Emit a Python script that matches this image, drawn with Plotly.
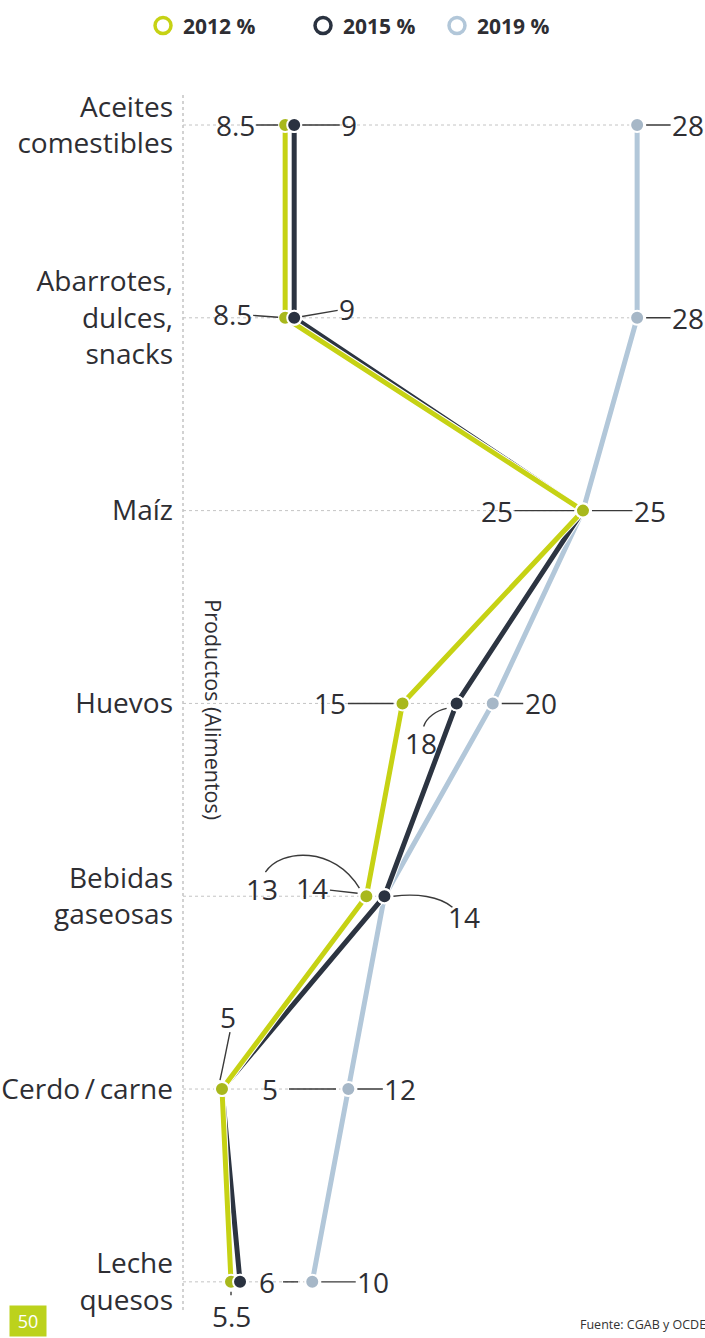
import numpy as np
import plotly.graph_objects as go

# ---- data ---------------------------------------------------------------
categories = [
    "Aceites<br>comestibles",
    "Abarrotes,<br>dulces,<br>snacks",
    "Maíz",
    "Huevos",
    "Bebidas<br>gaseosas",
    "Cerdo\u2009/\u2009carne",
    "Leche<br>quesos",
]
v2012 = [8.5, 8.5, 25, 15, 13, 5, 5.5]
v2015 = [9, 9, 25, 18, 14, 5, 6]
v2019 = [28, 28, 25, 20, 14, 12, 10]
series_names = ["2012 %", "2015 %", "2019 %"]

# ---- styling ------------------------------------------------------------
LINE_C = {"2012 %": "#c6d214", "2015 %": "#2c3441", "2019 %": "#b2c7d9"}
MARK_C = {"2012 %": "#a8b81c", "2015 %": "#2a3240", "2019 %": "#a6b7c7"}
RING_C = {"2012 %": "#c6d214", "2015 %": "#2a3240", "2019 %": "#b2c7d9"}
TEXT_C = "#2e2e33"
FONT = "Open Sans"
NUM_SIZE = 28

W, H = 705, 1338
ML, MR, MT, MB = 183, 0, 80, 28
XRANGE = [2.84, 31.76]
YRANGE = [6.146, -0.2334]

ypos = list(range(len(categories)))
values = {"2012 %": v2012, "2015 %": v2015, "2019 %": v2019}

fig = go.Figure()

# lines with a thin white halo, 2019 at the back
for name in ["2019 %", "2015 %", "2012 %"]:
    fig.add_trace(go.Scatter(x=values[name], y=ypos, mode="lines",
                             line=dict(color="white", width=7),
                             showlegend=False, hoverinfo="skip"))
    fig.add_trace(go.Scatter(x=values[name], y=ypos, mode="lines",
                             line=dict(color=LINE_C[name], width=5),
                             showlegend=False, hoverinfo="skip"))


def marker_trace(name, xs):
    return go.Scatter(x=xs, y=ypos, mode="markers",
                      marker=dict(size=14, color=MARK_C[name],
                                  line=dict(color="white", width=2)),
                      showlegend=False, hoverinfo="skip")


# markers: 2015 under 2012 where they coincide, over it where they differ
fig.add_trace(marker_trace("2019 %", v2019))
fig.add_trace(marker_trace("2015 %", v2015))
fig.add_trace(marker_trace("2012 %", v2012))
v2015_apart = [b if b != a else None for a, b in zip(v2012, v2015)]
fig.add_trace(marker_trace("2015 %", v2015_apart))

# legend entries (open rings), one small legend per year
legend_ids = ["legend", "legend2", "legend3"]
legend_x = [-0.0766, 0.2299, 0.4866]
for name, lid in zip(series_names, legend_ids):
    fig.add_trace(go.Scatter(x=[None], y=[None], mode="markers", name=name,
                             legend=lid,
                             marker=dict(symbol="circle-open", size=16,
                                         color=RING_C[name],
                                         line=dict(width=3.5))))

# ---- labels -------------------------------------------------------------
annotations = []
shapes = []
num_font = dict(family=FONT, size=NUM_SIZE, color=TEXT_C)


def arrow_label(x, yi, text, ax, ay=0, standoff=7):
    annotations.append(dict(x=x, y=yi, xref="x", yref="y", text=text,
                            showarrow=True, arrowhead=0, arrowwidth=1.4,
                            arrowcolor="#3a3a3a", ax=ax, ay=ay,
                            standoff=standoff, font=num_font))


def free_label(x, yi, text, dx, dy):
    annotations.append(dict(x=x, y=yi, xref="x", yref="y", text=text,
                            showarrow=False, xshift=dx, yshift=-dy,
                            font=num_font))


def leader(x, yi, pts, curve=None):
    # pts given in screen pixels relative to the data point (y down)
    def p(q):
        return f"{q[0]},{-q[1]}"
    if curve is None:
        path = f"M {p(pts[0])} L {p(pts[1])}"
    else:
        path = f"M {p(pts[0])} C {p(curve[0])} {p(curve[1])} {p(pts[1])}"
    shapes.append(dict(type="path", path=path, xref="x", yref="y",
                       xsizemode="pixel", ysizemode="pixel",
                       xanchor=x, yanchor=yi,
                       line=dict(color="#3a3a3a", width=1.4)))


# Aceites comestibles
arrow_label(v2012[0], 0, "8.5", -50)
arrow_label(v2015[0], 0, "9", 55, standoff=8)
arrow_label(v2019[0], 0, "28", 51, standoff=9)
# Abarrotes
arrow_label(v2012[1], 1, "8.5", -53, -4)
arrow_label(v2015[1], 1, "9", 53, -9, standoff=8)
arrow_label(v2019[1], 1, "28", 51, standoff=9)
# Maíz
arrow_label(v2012[2], 2, "25", -86, standoff=9)
arrow_label(v2019[2], 2, "25", 67, standoff=9)
# Huevos
arrow_label(v2012[3], 3, "15", -72, standoff=9)
free_label(v2015[3], 3, "18", -36, 40)
leader(v2015[3], 3, [(-33, 23), (-10, 5)], curve=[(-30, 14), (-20, 7)])
arrow_label(v2019[3], 3, "20", 48, standoff=9)
# Bebidas gaseosas
free_label(v2012[4], 4, "13", -104, -7)
leader(v2012[4], 4, [(-101, -24), (-7, -8)], curve=[(-85, -48), (-32, -50)])
arrow_label(v2019[4], 4, "14", -72, -8, standoff=27)
free_label(v2015[4], 4, "14", 80, 21)
leader(v2015[4], 4, [(9, 0), (68, 11)], curve=[(32, -3), (55, 0)])
# Cerdo/carne
free_label(v2012[5], 5, "5", 6, -72)
leader(v2012[5], 5, [(8, -57), (-2, -9)], curve=[(4, -38), (1, -22)])
free_label(v2015[5], 5, "5", 48, 0)
leader(v2015[5], 5, [(67, 0), (114, 0)])
arrow_label(v2019[5], 5, "12", 52, standoff=9)
# Leche quesos
arrow_label(v2012[6], 6, "5.5", 0, 34, standoff=10)
free_label(v2015[6], 6, "6", 27, 0)
leader(v2015[6], 6, [(43, 0), (58, 0)])
arrow_label(v2019[6], 6, "10", 61, standoff=9)

# dotted guide per category, from the axis to the furthest point
for yi in ypos:
    far = max(v2012[yi], v2015[yi], v2019[yi])
    shapes.append(dict(type="line", xref="x", yref="y", x0=XRANGE[0], x1=far,
                       y0=yi, y1=yi, layer="below",
                       line=dict(color="#c4c4c4", width=1, dash="dot")))

# dotted vertical axis line
shapes.append(dict(type="line", xref="paper", yref="paper", x0=0, x1=0,
                   y0=0, y1=0.99, layer="below",
                   line=dict(color="#c4c4c4", width=1.5, dash="dot")))

# axis title
annotations.append(dict(x=0, y=0.488, xref="paper", yref="paper",
                        text="Productos (Alimentos)", showarrow=False,
                        textangle=90, xshift=14,
                        font=dict(family=FONT, size=21.5, color=TEXT_C)))

# source line and page number
annotations.append(dict(x=0.757, y=-0.012, xref="paper", yref="paper",
                        xanchor="left", yanchor="middle",
                        text="Fuente: CGAB y OCDE", showarrow=False,
                        font=dict(family=FONT, size=12.5, color="#333333")))
annotations.append(dict(x=-0.333, y=-0.022, xref="paper", yref="paper",
                        xanchor="left", yanchor="bottom",
                        text="50", showarrow=False, bgcolor="#bcd21c",
                        borderpad=3, width=30,
                        font=dict(family=FONT, size=18, color="white")))

legend_style = dict(orientation="h", xanchor="left", y=1.044, yanchor="middle",
                    font=dict(family=FONT, size=21, color=TEXT_C, weight=700),
                    bgcolor="rgba(0,0,0,0)")

fig.update_layout(
    width=W, height=H,
    margin=dict(l=ML, r=MR, t=MT, b=MB),
    paper_bgcolor="white", plot_bgcolor="white",
    xaxis=dict(range=XRANGE, showgrid=False, zeroline=False,
               showticklabels=False, showline=False, fixedrange=True),
    yaxis=dict(range=YRANGE, tickvals=ypos, ticktext=categories,
               showgrid=False, zeroline=False, showline=False, ticks="",
               ticklabelstandoff=9,
               tickfont=dict(family=FONT, size=28, color=TEXT_C)),
    legend=dict(x=legend_x[0], **legend_style),
    legend2=dict(x=legend_x[1], **legend_style),
    legend3=dict(x=legend_x[2], **legend_style),
    annotations=annotations,
    shapes=shapes,
    showlegend=True,
)

fig.write_html("out.html")
